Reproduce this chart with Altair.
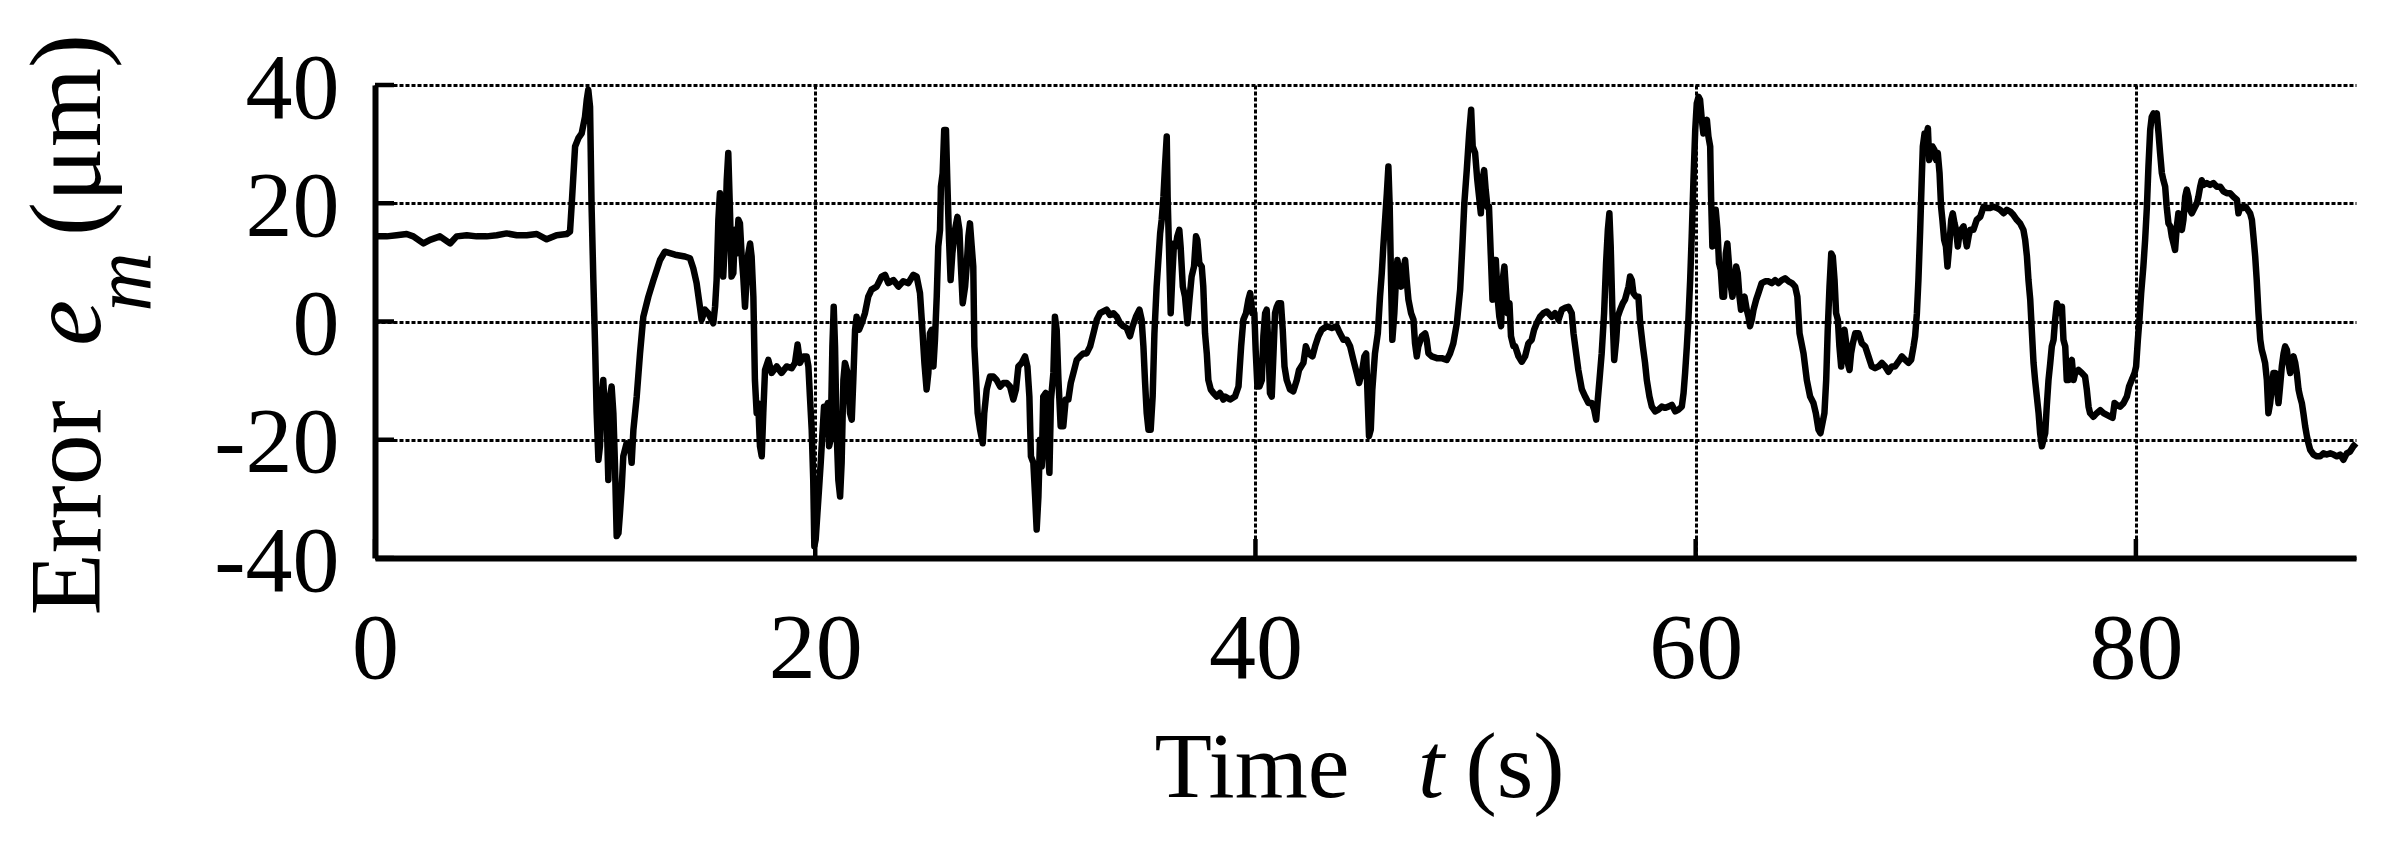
import altair as alt
import pandas as pd

# ---- data (time in s, error in micrometres) ----
t_a = [0.00, 0.53, 0.98, 1.44, 1.74, 2.20, 2.50, 2.95, 3.41, 3.71, 4.17, 4.62, 5.07, 5.53, 5.98, 6.44, 6.89, 7.35, 7.80, 8.25,
       8.71, 8.86, 8.94, 9.09, 9.24, 9.39, 9.54, 9.62, 9.69, 9.77, 9.84, 9.92, 10.00, 10.07, 10.15, 10.22, 10.30, 10.37, 10.45, 10.53,
       10.60, 10.68, 10.75, 10.83, 10.90, 10.98, 11.06, 11.13, 11.21, 11.28, 11.43, 11.59, 11.66, 11.74, 11.89, 12.04, 12.19, 12.42, 12.65]
e_a = [14.4, 14.4, 14.6, 14.8, 14.4, 13.2, 13.8, 14.4, 13.2, 14.4, 14.6, 14.4, 14.4, 14.6, 14.9, 14.6, 14.6, 14.8, 13.9, 14.6,
       14.8, 15.2, 20.0, 29.6, 31.0, 31.8, 34.6, 37.5, 39.2, 36.3, 19.4, 7.0, -4.2, -15.5, -23.4, -21.1, -12.7, -9.9, -15.5, -16.6,
       -26.8, -12.7, -11.0, -15.5, -23.9, -36.3, -35.8, -32.4, -27.9, -22.8, -20.6, -21.1, -23.9, -18.3, -12.7, -5.4, 0.8, 4.2, 7.0]

t_b = [12.95, 13.17, 13.63, 14.08, 14.31, 14.46, 14.61, 14.76, 14.84, 14.99,
       15.14, 15.29, 15.37, 15.45, 15.52, 15.60, 15.67, 15.75, 15.82, 15.90,
       15.98, 16.05, 16.13, 16.20, 16.28, 16.35, 16.43, 16.51, 16.58, 16.66,
       16.73, 16.81, 16.88, 16.96, 17.04, 17.11, 17.19, 17.26, 17.34, 17.41,
       17.49, 17.57, 17.64, 17.72, 17.87, 18.02, 18.25, 18.47, 18.70, 18.93,
       19.08, 19.20, 19.31, 19.46, 19.61, 19.69, 19.76, 19.84, 19.91, 19.96,
       20.02, 20.10, 20.17, 20.25, 20.32, 20.40, 20.47, 20.57, 20.63, 20.70,
       20.78, 20.84, 20.90, 20.97, 21.05, 21.13, 21.20, 21.28, 21.35, 21.47,
       21.58, 21.66, 21.73, 21.81, 21.88, 21.99, 22.11, 22.26, 22.41, 22.56,
       22.79, 23.02, 23.17, 23.32, 23.55, 23.78, 24.00, 24.23, 24.46, 24.61,
       24.76, 24.84, 24.96, 25.06, 25.14, 25.21, 25.29, 25.37, 25.44, 25.52,
       25.59, 25.67, 25.71, 25.79, 25.86]
e_b = [10.4, 11.8, 11.3, 11.0, 10.7, 9.0, 6.5, 2.5, 0.3, 2.0,
       1.4, 0.3, -0.3, 2.5, 7.0, 17.2, 21.7, 15.5, 7.6, 13.8,
       23.9, 28.5, 18.3, 7.6, 8.2, 15.5, 11.5, 17.2, 16.6, 11.0,
       7.6, 2.5, 7.0, 11.5, 13.2, 11.0, 4.2, -9.9, -15.5, -13.8,
       -21.1, -22.8, -15.5, -8.2, -6.5, -8.7, -7.6, -8.7, -7.6, -7.9,
       -7.0, -3.9, -7.0, -5.9, -5.9, -7.6, -12.7, -18.3, -26.8, -38.0,
       -36.9, -32.4, -28.5, -23.9, -19.4, -14.4, -15.5, -13.8, -21.1, -20.0,
       -4.2, 2.5, -4.2, -18.3, -26.8, -29.6, -23.9, -9.9, -7.0, -8.7,
       -15.5, -16.6, -9.9, -1.4, 0.8, -1.4, -0.3, 1.4, 4.2, 5.4,
       5.9, 7.6, 7.9, 6.5, 7.0, 5.9, 6.8, 6.5, 7.9, 7.6,
       4.8, 0.3, -7.0, -11.5, -8.7, -2.0, -1.4, -7.6, -3.1, 4.2,
       12.7, 15.5, 22.8, 25.1, 32.4]

t_c = [25.94, 26.00, 26.08, 26.15, 26.23, 26.35, 26.46, 26.55, 26.62, 26.70,
       26.81, 26.88, 26.96, 27.03, 27.11, 27.18, 27.23, 27.31, 27.38, 27.49,
       27.61, 27.68, 27.79, 27.94, 28.09, 28.24, 28.40, 28.55, 28.70, 28.85,
       29.00, 29.12, 29.23, 29.38, 29.53, 29.64, 29.73, 29.80, 29.91, 29.99,
       30.06, 30.14, 30.21, 30.29, 30.36, 30.47, 30.55, 30.64, 30.71, 30.82,
       30.89, 30.97, 31.05, 31.15, 31.27, 31.38, 31.50, 31.61, 31.73, 31.88,
       32.03, 32.18, 32.33, 32.49, 32.64, 32.79, 32.94, 33.09, 33.24, 33.39,
       33.55, 33.70, 33.85, 34.00, 34.15, 34.30, 34.42, 34.57, 34.73, 34.83,
       34.91, 34.98, 35.06, 35.14, 35.24, 35.33, 35.41, 35.51, 35.59, 35.67,
       35.74, 35.82, 35.89, 35.97, 36.01, 36.07, 36.15, 36.23, 36.30, 36.38,
       36.45, 36.54, 36.60, 36.70, 36.80, 36.91, 37.00, 37.10, 37.21, 37.30,
       37.36, 37.45, 37.56, 37.63, 37.71, 37.79, 37.86, 37.97, 38.09, 38.24,
       38.39, 38.54]
e_c = [32.4, 23.9, 13.8, 7.0, 11.5, 15.5, 17.7, 15.5, 9.3, 3.1,
       5.9, 9.3, 14.4, 16.6, 12.7, 9.3, -4.2, -9.9, -15.5, -18.3,
       -20.6, -15.5, -11.5, -9.3, -9.3, -9.9, -11.0, -10.4, -10.4, -11.0,
       -13.2, -11.5, -7.6, -7.0, -5.9, -7.6, -12.7, -22.8, -23.9, -29.6,
       -35.2, -29.6, -20.0, -24.5, -12.7, -12.1, -21.1, -25.6, -13.2, -8.7,
       0.8, -1.4, -9.9, -17.7, -17.7, -13.2, -13.2, -10.4, -8.7, -6.5,
       -5.9, -5.4, -5.4, -4.2, -2.0, 0.3, 1.4, 1.7, 2.0, 1.1,
       1.4, 0.8, -0.3, -0.8, -1.1, -2.5, -0.8, 0.8, 2.0, 0.3,
       -4.2, -9.9, -15.5, -18.3, -18.3, -12.7, -2.0, 5.9, 10.4, 14.9,
       17.2, 21.1, 26.2, 31.3, 21.1, 12.7, 1.4, 8.2, 13.2, 12.7,
       14.4, 15.5, 12.7, 5.9, 4.2, -0.3, 3.7, 7.6, 9.3, 14.4,
       13.8, 9.9, 9.3, 5.9, -2.0, -5.4, -9.9, -11.5, -12.1, -12.7,
       -12.1, -13.2]

t_d = [38.62, 38.85, 39.07, 39.23, 39.35, 39.45, 39.57, 39.68, 39.76, 39.86,
       39.95, 40.01, 40.09, 40.18, 40.29, 40.36, 40.44, 40.51, 40.59, 40.66,
       40.74, 40.82, 40.89, 40.97, 41.04, 41.16, 41.24, 41.32, 41.42, 41.57,
       41.72, 41.88, 41.98, 42.18, 42.29, 42.41, 42.59, 42.71, 42.86, 43.01,
       43.24, 43.47, 43.69, 43.84, 44.00, 44.15, 44.30, 44.45, 44.60, 44.71,
       44.83, 44.95, 45.03, 45.10, 45.16, 45.24, 45.31, 45.43, 45.56, 45.66,
       45.74, 45.81, 45.89, 45.97, 46.04, 46.10, 46.16, 46.22, 46.31, 46.39,
       46.45, 46.53, 46.62, 46.72, 46.80, 46.87, 46.95, 47.07, 47.18, 47.25,
       47.33, 47.40, 47.56, 47.71, 47.78, 47.86, 48.01, 48.24, 48.46, 48.69,
       48.84, 48.99, 49.15, 49.30, 49.40, 49.49, 49.60, 49.71, 49.80, 49.87,
       49.98, 50.08, 50.16, 50.24, 50.31, 50.39, 50.46, 50.54, 50.61, 50.69,
       50.77, 50.84, 50.92, 51.01, 51.08, 51.16, 51.23, 51.31, 51.39, 51.46,
       51.54, 51.61, 51.72]
e_d = [-12.7, -13.2, -12.7, -11.0, -4.2, 0.3, 1.4, 3.7, 4.8, 1.4,
       1.4, -4.8, -11.0, -11.0, -9.9, -2.5, 1.4, 2.0, -4.2, -12.1,
       -12.7, -5.4, 1.4, 2.5, 3.1, 3.1, -1.4, -7.6, -9.9, -11.5,
       -11.8, -9.9, -8.2, -7.0, -4.2, -5.4, -5.9, -4.2, -2.5, -1.4,
       -0.8, -1.1, -0.8, -2.0, -3.1, -3.1, -4.2, -6.5, -8.7, -10.4,
       -8.7, -5.9, -5.4, -13.2, -19.4, -18.3, -11.5, -5.4, -2.0, 4.2,
       8.2, 12.7, 17.2, 21.7, 26.2, 19.4, 7.0, -3.1, 1.4, 7.6,
       10.4, 8.2, 5.9, 8.7, 10.4, 7.0, 3.7, 1.4, 0.3, -3.7,
       -5.9, -4.2, -2.5, -2.0, -3.1, -5.4, -5.9, -6.2, -6.2, -6.5,
       -5.4, -3.7, -0.3, 5.4, 12.7, 20.0, 25.6, 31.8, 35.8, 29.6,
       28.5, 23.9, 21.1, 18.3, 23.9, 25.6, 22.3, 19.4, 19.4, 11.5,
       3.7, 10.4, 10.4, 3.7, 0.8, -0.8, 7.0, 9.3, 4.8, 1.4,
       3.1, -2.5, -4.2]

t_e = [51.80, 51.95, 52.10, 52.25, 52.40, 52.55, 52.66, 52.78, 52.93, 53.08,
       53.24, 53.46, 53.61, 53.77, 53.92, 54.07, 54.22, 54.37, 54.45, 54.57,
       54.67, 54.83, 54.98, 55.13, 55.28, 55.39, 55.48, 55.54, 55.63, 55.73,
       55.84, 55.93, 56.01, 56.08, 56.14, 56.22, 56.30, 56.39, 56.46, 56.57,
       56.69, 56.79, 56.87, 56.95, 57.02, 57.10, 57.17, 57.29, 57.40, 57.48,
       57.60, 57.70, 57.78, 57.90, 58.01, 58.16, 58.31, 58.46, 58.61, 58.76,
       58.92, 59.07, 59.22, 59.37, 59.45, 59.52, 59.60, 59.67, 59.75, 59.82,
       59.90, 59.98, 60.05, 60.13, 60.20, 60.28, 60.35, 60.43, 60.51, 60.58,
       60.66, 60.70, 60.76, 60.84, 60.91, 60.99, 61.06, 61.14, 61.22, 61.29,
       61.37, 61.44, 61.52, 61.60, 61.67, 61.75, 61.84, 61.91, 61.99, 62.06,
       62.14, 62.22, 62.32, 62.40, 62.47, 62.55, 62.63, 62.75, 62.85, 63.00,
       63.16, 63.31, 63.46, 63.61, 63.76, 63.91, 64.06, 64.22, 64.37, 64.52,
       64.62, 64.72]
e_e = [-4.2, -5.9, -6.8, -5.9, -3.7, -3.1, -1.4, -0.3, 0.8, 1.4,
       1.7, 0.8, 1.4, 0.3, 2.0, 2.3, 2.5, 1.4, -2.0, -5.4,
       -8.2, -11.5, -12.7, -13.8, -13.8, -14.9, -16.6, -13.8, -9.9, -5.4,
       1.4, 9.9, 15.5, 18.3, 12.7, 1.4, -6.5, -3.1, 0.8, 2.0,
       3.1, 3.7, 4.8, 5.9, 7.6, 7.0, 4.8, 4.2, 4.2, -0.3,
       -4.2, -7.0, -9.9, -12.7, -14.4, -15.2, -14.9, -14.4, -14.6, -14.4,
       -14.1, -15.2, -14.9, -14.4, -12.1, -8.7, -4.2, 0.3, 7.0, 14.4,
       23.9, 32.4, 36.9, 38.0, 37.5, 34.1, 31.8, 32.9, 34.1, 31.3,
       29.6, 21.1, 12.7, 14.9, 18.9, 15.5, 9.9, 8.7, 4.2, 4.2,
       11.5, 13.2, 9.3, 5.9, 4.2, 5.9, 9.3, 8.2, 4.2, 2.0,
       3.7, 4.2, 2.0, 0.8, -0.8, 0.3, 2.0, 3.7, 4.8, 6.5,
       6.8, 6.8, 6.5, 7.0, 6.5, 7.0, 7.3, 6.8, 6.5, 5.9,
       4.2, -2.0]

t_f = [64.90, 65.05, 65.20, 65.35, 65.46, 65.58, 65.67, 65.76, 65.85, 65.93,
       66.00, 66.08, 66.16, 66.23, 66.31, 66.38, 66.46, 66.53, 66.61, 66.69,
       66.76, 66.84, 66.91, 66.99, 67.06, 67.14, 67.25, 67.40, 67.55, 67.70,
       67.85, 68.00, 68.15, 68.31, 68.46, 68.61, 68.76, 68.91, 69.06, 69.21,
       69.37, 69.52, 69.67, 69.79, 69.90, 69.97, 70.05, 70.12, 70.20, 70.27,
       70.32, 70.40, 70.47, 70.55, 70.61, 70.68, 70.76, 70.85, 70.93, 71.00,
       71.08, 71.15, 71.21, 71.29, 71.37, 71.44, 71.52, 71.61, 71.68, 71.76,
       71.83, 71.91, 71.99, 72.06, 72.17, 72.24, 72.32, 72.40, 72.47, 72.62,
       72.77, 72.93, 73.08, 73.23, 73.38, 73.53, 73.68, 73.83, 73.99, 74.14,
       74.29, 74.44, 74.59, 74.74, 74.89, 74.97, 75.05, 75.12, 75.20, 75.27,
       75.35, 75.42, 75.50, 75.58, 75.65, 75.73, 75.80, 75.88, 75.95, 76.03,
       76.11, 76.18, 76.26, 76.33, 76.41, 76.48, 76.56, 76.64, 76.71, 76.79,
       76.86, 76.94, 77.01, 77.09, 77.17, 77.24]
e_f = [-5.4, -9.9, -12.7, -13.8, -15.5, -18.3, -18.9, -17.2, -15.5, -9.9,
       -1.4, 5.9, 11.5, 11.0, 7.0, 1.4, 0.3, -4.2, -7.6, -3.1,
       -1.4, -3.7, -7.0, -8.2, -5.4, -3.7, -2.0, -2.0, -3.7, -4.2,
       -5.9, -7.6, -7.9, -7.6, -7.0, -7.6, -8.5, -7.6, -7.6, -6.8,
       -5.9, -6.5, -7.0, -6.5, -4.2, -2.5, 1.4, 7.0, 15.5, 23.9,
       29.6, 31.8, 31.3, 32.7, 27.3, 28.5, 29.6, 29.0, 27.3, 28.5,
       25.1, 19.4, 17.2, 13.8, 12.7, 9.3, 12.7, 17.2, 18.3, 16.6,
       15.5, 12.7, 14.9, 15.5, 16.1, 14.4, 12.7, 14.4, 15.5, 15.5,
       17.2, 17.7, 19.4, 19.2, 19.2, 19.4, 19.2, 18.9, 18.3, 18.9,
       18.6, 18.0, 17.2, 16.6, 15.5, 13.8, 11.0, 7.0, 3.7, -1.4,
       -7.0, -9.9, -12.7, -15.5, -18.9, -21.1, -20.0, -18.9, -14.4, -9.9,
       -7.0, -4.2, -3.1, 0.3, 3.1, 2.5, 1.4, 2.5, -3.1, -4.2,
       -9.9, -9.9, -7.0, -6.5, -9.9, -8.7]

t_g = [77.39, 77.54, 77.69, 77.77, 77.85, 77.92, 78.07, 78.22, 78.38, 78.53,
       78.68, 78.83, 78.94, 79.03, 79.13, 79.28, 79.44, 79.59, 79.69, 79.81,
       79.94, 80.01, 80.09, 80.16, 80.24, 80.34, 80.42, 80.50, 80.57, 80.65,
       80.72, 80.80, 80.87, 80.95, 81.03, 81.10, 81.18, 81.25, 81.33, 81.40,
       81.48, 81.56, 81.63, 81.71, 81.78, 81.86, 81.93, 82.01, 82.09, 82.16,
       82.24, 82.31, 82.39, 82.46, 82.54, 82.62, 82.69, 82.77, 82.84, 82.92,
       82.99, 83.07, 83.22, 83.37, 83.52, 83.68, 83.83, 83.98, 84.13, 84.28,
       84.43, 84.59, 84.66, 84.74, 84.89, 84.99, 85.08, 85.19, 85.27, 85.34,
       85.42, 85.49, 85.57, 85.65, 85.72, 85.80, 85.87, 85.95, 86.02, 86.10,
       86.18, 86.25, 86.33, 86.40, 86.48, 86.55, 86.63, 86.71, 86.78, 86.86,
       86.93, 87.01, 87.08, 87.16, 87.24, 87.31, 87.39, 87.46, 87.54, 87.61,
       87.69, 87.77, 87.84, 87.92, 88.07, 88.22, 88.37, 88.52, 88.67, 88.83,
       88.98, 89.13, 89.28, 89.43, 89.58, 89.73, 89.88, 90.00]
e_g = [-8.2, -8.7, -9.3, -11.5, -14.4, -15.5, -16.1, -15.5, -15.0, -15.5,
       -15.8, -16.1, -16.3, -13.8, -14.1, -14.4, -13.8, -12.7, -11.0, -9.9,
       -8.7, -7.6, -3.1, 0.3, 4.8, 9.3, 13.8, 19.4, 26.2, 32.4,
       34.6, 35.2, 34.6, 35.2, 31.8, 28.5, 25.1, 23.9, 22.8, 19.4,
       16.6, 16.1, 14.4, 13.2, 12.1, 16.1, 18.3, 16.6, 15.5, 17.2,
       21.1, 22.3, 21.1, 18.9, 18.3, 18.9, 19.4, 20.0, 21.1, 22.8,
       23.9, 23.1, 23.4, 23.1, 23.4, 22.8, 22.8, 22.0, 21.7, 21.7,
       21.1, 20.6, 18.3, 19.4, 19.2, 19.4, 18.9, 18.3, 17.2, 14.4,
       11.0, 7.0, 1.4, -3.1, -4.8, -5.9, -7.0, -9.9, -15.5, -13.8,
       -11.0, -8.7, -8.7, -11.0, -13.8, -11.0, -7.6, -5.4, -4.2, -4.8,
       -7.0, -8.7, -7.6, -5.9, -7.0, -8.7, -11.5, -12.7, -13.8, -15.5,
       -17.7, -19.4, -20.6, -21.7, -22.5, -22.8, -22.8, -22.3, -22.5, -22.3,
       -22.5, -22.8, -22.5, -23.4, -22.3, -22.0, -21.1, -20.6]

x_ticks = [0, 20, 40, 60, 80]
y_ticks = [-40, -20, 0, 20, 40]
x_title_parts = ["Time", "t", "(s)"]
y_title_parts = ["Error", "e", "m", "(μm)"]

# ---- build table ----
frames = []
for t, e in [(t_a, e_a), (t_b, e_b), (t_c, e_c), (t_d, e_d), (t_e, e_e), (t_f, e_f), (t_g, e_g)]:
    assert len(t) == len(e), (len(t), len(e))
    frames.append(pd.DataFrame({"time": t, "error": e}))
df = pd.concat(frames, ignore_index=True)

W, H = 1981, 473
FONT = "Liberation Serif"

x_scale = alt.Scale(domain=[0, 90], nice=False, zero=False)
y_scale = alt.Scale(domain=[-40, 40], nice=False, zero=False)

common_axis = dict(
    grid=True, gridDash=[4, 2], gridColor="black", gridWidth=3, gridOpacity=1,
    domain=True, domainColor="black", domainWidth=6, ticks=False,
    labelFont=FONT, labelFontSize=94, labelColor="black", labelFlush=False,
    labelOverlap=False, labelExpr="'' + datum.value", title=None,
)
x_axis = alt.Axis(values=x_ticks, labelBaseline="alphabetic", labelPadding=119, **common_axis)
y_axis = alt.Axis(values=y_ticks, labelBaseline="middle", labelPadding=36, labelOffset=4, **common_axis)

line = alt.Chart(df).mark_line(color="black", strokeWidth=6.5, strokeJoin="round").encode(
    x=alt.X("time:Q", scale=x_scale, axis=x_axis),
    y=alt.Y("error:Q", scale=y_scale, axis=y_axis),
)

# inward tick marks
ytick = alt.Chart(pd.DataFrame({"error": y_ticks})).mark_rule(color="black", strokeWidth=4.5).encode(
    y=alt.Y("error:Q", scale=y_scale, axis=y_axis), x=alt.value(0), x2=alt.value(19))
xtick = alt.Chart(pd.DataFrame({"time": x_ticks})).mark_rule(color="black", strokeWidth=4.5).encode(
    x=alt.X("time:Q", scale=x_scale, axis=x_axis), y=alt.value(H), y2=alt.value(H - 19))


def label(text, x, y, size, style="normal", angle=0):
    return alt.Chart(pd.DataFrame({"label": [text]})).mark_text(
        font=FONT, fontSize=size, fontStyle=style, color="black", angle=angle,
        align="center", baseline="alphabetic",
    ).encode(text="label:N", x=alt.value(x), y=alt.value(y))


titles = [
    label(x_title_parts[0], 877, 712, 94),
    label(x_title_parts[1], 1056, 712, 94, "italic"),
    label(x_title_parts[2], 1140, 712, 94),
    label(y_title_parts[0], -275, 423, 102, angle=270),
    label(y_title_parts[1], -275, 238, 104, "italic", angle=270),
    label(y_title_parts[2], -225, 197, 82, "italic", angle=270),
    label(y_title_parts[3], -275, 50, 102, angle=270),
]

chart = alt.layer(line, ytick, xtick, *titles).properties(
    width=W, height=H,
    autosize=alt.AutoSizeParams(type="none"),
    padding={"left": 367, "top": 77, "right": 30, "bottom": 270},
    background="white",
).configure_view(stroke=None)

chart.save("out.html", embed_options={"renderer": "svg", "actions": False})
